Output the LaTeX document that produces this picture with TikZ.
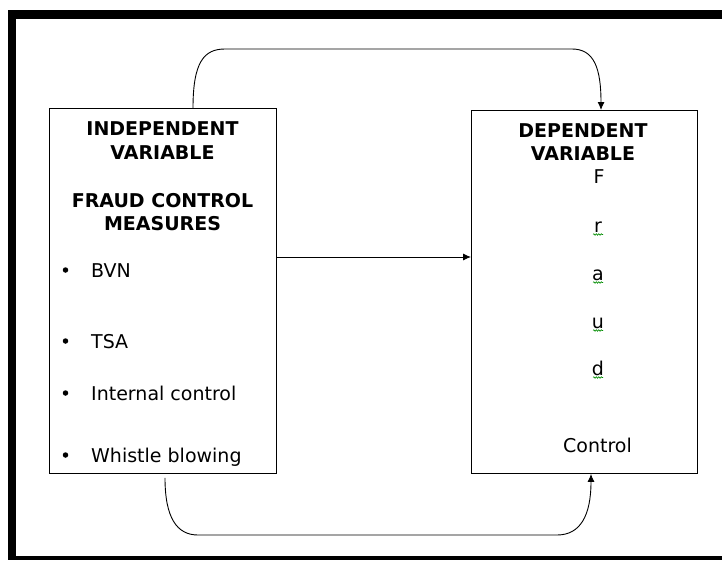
\documentclass[tikz,border=0pt]{standalone}
\usepackage{fontspec}
\setmainfont{DejaVu Sans}
\usetikzlibrary{arrows.meta,decorations.pathmorphing}

\begin{document}
\begin{tikzpicture}[x=1pt,y=-1pt,
  box/.style={draw,line width=0.9pt,inner sep=0pt,anchor=north west},
  conn/.style={line width=0.9pt,-{Latex[length=8pt,width=7pt]}},
  hdr/.style={font=\fontsize{19}{24}\selectfont\bfseries,anchor=base,inner sep=0pt},
  lbl/.style={font=\fontsize{19}{24}\selectfont,anchor=base west,inner sep=0pt},
  dot/.style={circle,fill,inner sep=0pt,minimum size=5.5pt},
  wavy/.style={green!55!black,line width=0.6pt,decorate,decoration={snake,amplitude=0.8pt,segment length=2.5pt}}]
  \useasboundingbox (0,0) rectangle (722,560);
  % frame, open on the right
  \fill (8,10) rectangle (722,19);
  \fill (8,10) rectangle (15.5,560);
  \fill (8,555.5) rectangle (722,560);
  % boxes
  \node[box,minimum width=227pt,minimum height=365pt] (ivbox) at (49,108) {};
  \node[box,minimum width=226pt,minimum height=363pt] (dvbox) at (471,110) {};
  % independent variable
  \node[hdr] (ivhead) at (162.5,135) {INDEPENDENT};
  \node[hdr] (ivvar) at (162.5,159) {VARIABLE};
  \node[hdr] (fcm) at (162.5,207) {FRAUD CONTROL};
  \node[hdr] (meas) at (162.5,230) {MEASURES};
  \foreach \y/\t/\n in {277/BVN/bvn,348/TSA/tsa,400/Internal control/ic,462/Whistle blowing/wb} {
    \node[dot] (d\n) at (65.5,\y-7) {};
    \node[lbl] (\n) at (91,\y) {\t};
  }
  % dependent variable
  \node[hdr] (dvhead) at (583,137) {DEPENDENT};
  \node[hdr] (dvvar) at (583,160) {VARIABLE};
  \node[lbl,anchor=base] (fF) at (599,183) {F};
  \foreach \y/\c in {232/r,280/a,328/u,375/d} {
    \node[lbl,anchor=base] (f\c) at (598,\y) {\c};
    \draw[wavy] (593,\y+2.5) -- (603,\y+2.5);
  }
  \node[lbl,anchor=base] (ctrl) at (597.5,452) {Control};
  % connectors
  \coordinate (mid) at (0,257);
  \draw[conn] (ivbox.east |- mid) -- (dvbox.west |- mid);
  \draw[conn] ([xshift=144pt]ivbox.north west) .. controls (193,62) and (204,49) .. (225,49) -- (572,49)
    .. controls (594,49) and (601,68) .. ([xshift=130pt]dvbox.north west);
  \draw[conn] ([xshift=116pt,yshift=-4pt]ivbox.south west) .. controls (165,518) and (177,535) .. (198,535) -- (557,535)
    .. controls (580,535) and (591,516) .. ([xshift=120pt]dvbox.south west);
\end{tikzpicture}
\end{document}
